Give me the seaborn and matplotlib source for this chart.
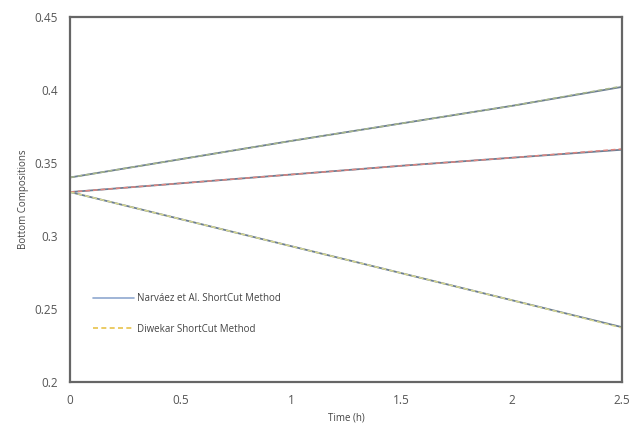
import numpy as np
import pandas as pd
import seaborn as sns
from matplotlib import pyplot as plt

# time (h)
time_h = [0, 0.5, 1.0, 1.5, 2.0, 2.5]

# bottom compositions (three components)
narvaez_top = [0.340, 0.3525, 0.365, 0.377, 0.389, 0.402]
narvaez_mid = [0.330, 0.336, 0.342, 0.348, 0.3535, 0.359]
narvaez_low = [0.330, 0.3115, 0.293, 0.2745, 0.256, 0.2375]

diwekar_top = [0.340, 0.3525, 0.365, 0.377, 0.389, 0.4025]
diwekar_mid = [0.330, 0.336, 0.342, 0.348, 0.3535, 0.3595]
diwekar_low = [0.330, 0.3115, 0.293, 0.2745, 0.256, 0.237]

sns.set_style("white")
plt.rcParams['font.family'] = ['Open Sans', 'DejaVu Sans']

fig = plt.figure(figsize=(6.32, 4.32), dpi=100)
ax = fig.add_axes([0.111, 0.116, 0.873, 0.845])

solid_col = "#6b7d92"
dash_cols = ["#a9b88a", "#e0857f", "#d8d890"]

for ys in [narvaez_top, narvaez_mid, narvaez_low]:
    sns.lineplot(x=time_h, y=ys, ax=ax, color=solid_col, linewidth=1.3)
for ys, c in zip([diwekar_top, diwekar_mid, diwekar_low], dash_cols):
    sns.lineplot(x=time_h, y=ys, ax=ax, color=c, linewidth=1.1, linestyle=(0, (3, 2)))

# legend entries
h1, = ax.plot([], [], color="#8fa8d0", linewidth=1.2)
h2, = ax.plot([], [], color="#e8c24a", linewidth=1.2, linestyle=(0, (3, 2)))
ax.legend([h1, h2], ["Narváez et Al. ShortCut Method", "Diwekar ShortCut Method"],
          loc="lower left", bbox_to_anchor=(0.025, 0.105), frameon=False,
          fontsize=7, handlelength=4.2, handletextpad=0.4, labelspacing=2.0,
          labelcolor="#444444")

ax.set_xlim(0, 2.5)
ax.set_ylim(0.2, 0.45)
ax.set_xticks([0, 0.5, 1, 1.5, 2, 2.5])
ax.set_xticklabels(["0", "0.5", "1", "1.5", "2", "2.5"])
ax.set_yticks([0.2, 0.25, 0.3, 0.35, 0.4, 0.45])
ax.set_yticklabels(["0.2", "0.25", "0.3", "0.35", "0.4", "0.45"])
ax.tick_params(axis="both", labelsize=8.5, colors="#555555", length=0, pad=9)
ax.set_xlabel("Time (h)", fontsize=7, color="#444444", labelpad=4)
ax.set_ylabel("Bottom Compositions", fontsize=7, color="#444444", labelpad=4)

for s in ax.spines.values():
    s.set_color("#666666")
    s.set_linewidth(1.6)

fig.savefig("out.png", dpi=100)
